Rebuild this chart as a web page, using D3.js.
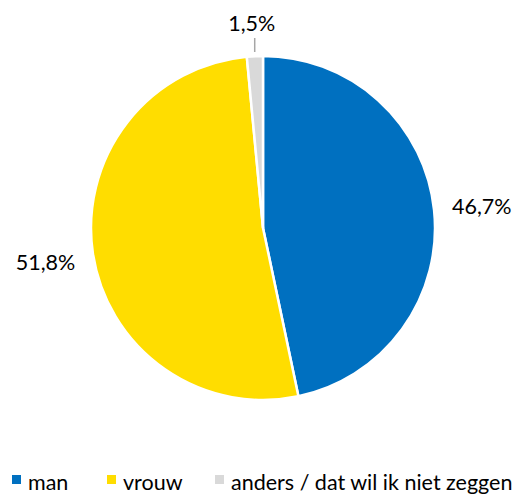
<!DOCTYPE html>
<html><head><meta charset="utf-8">
<script src="https://cdn.jsdelivr.net/npm/d3@7"></script>
<style>body{margin:0;background:#fff}svg{display:block}text{font-family:Lato,"Open Sans",sans-serif;fill:#000}</style>
</head><body>
<script>
const categories = ["man", "vrouw", "anders / dat wil ik niet zeggen"];
const values = [46.7, 51.8, 1.5];
const labels = ["46,7%", "51,8%", "1,5%"];
const colors = ["#0070C0", "#FFDD00", "#D9D9D9"];

const W = 527, H = 495;
const svg = d3.select("body").append("svg").attr("width", W).attr("height", H);
const cx = 263, cy = 228, r = 172;
const g = svg.append("g").attr("transform", `translate(${cx},${cy})`);
const pie = d3.pie().sort(null).value(d => d)(values);
const arc = d3.arc().innerRadius(0).outerRadius(r);
g.selectAll("path").data(pie).join("path")
  .attr("d", arc).attr("fill", (d, i) => colors[i])
  .attr("stroke", "#fff").attr("stroke-width", 2.5);

const FS = 21.5;
pie.forEach((d, i) => {
  const a = (d.startAngle + d.endAngle) / 2;
  if (i === 2) {
    const x = Math.sin(a) * (r + 4);
    g.append("line").attr("x1", x).attr("x2", x)
      .attr("y1", -(r + 4)).attr("y2", -(r + 18)).attr("stroke", "#A6A6A6").attr("stroke-width", 1.5);
    g.append("text").attr("x", x - 3).attr("y", -(r + 25))
      .attr("text-anchor", "middle").attr("font-size", FS).text(labels[i]);
  } else {
    const lr = 220;
    g.append("text").attr("x", Math.sin(a) * lr).attr("y", -Math.cos(a) * lr + 9)
      .attr("text-anchor", "middle").attr("font-size", FS).text(labels[i]);
  }
});

// legend
const legX = [12, 107, 215];
const leg = svg.append("g");
categories.forEach((c, i) => {
  leg.append("rect").attr("x", legX[i]).attr("y", 475).attr("width", 9).attr("height", 9).attr("fill", colors[i]);
  leg.append("text").attr("x", legX[i] + 16).attr("y", 490).attr("font-size", FS).text(c);
});
</script>
</body></html>
